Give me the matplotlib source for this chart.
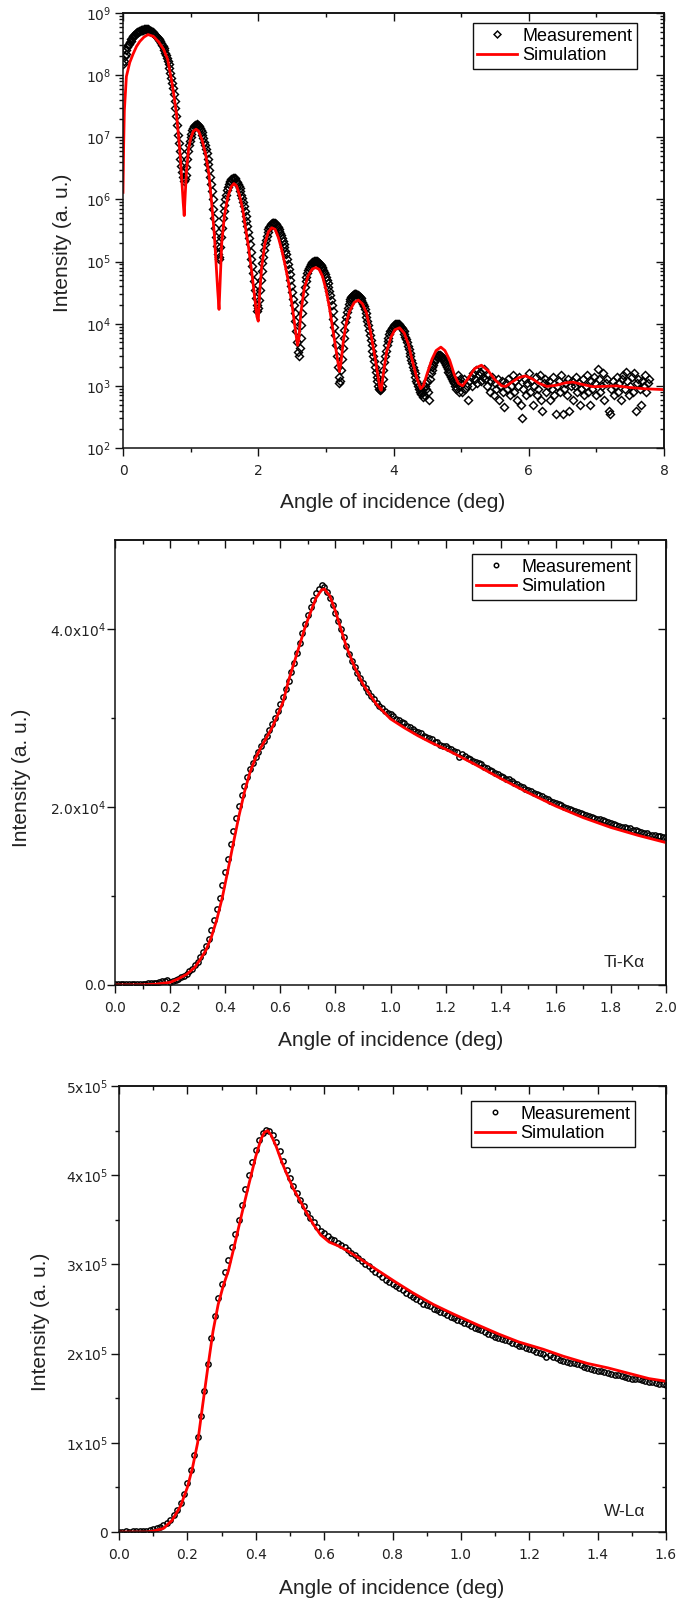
import numpy as np
import matplotlib.pyplot as plt
from matplotlib.ticker import MultipleLocator, FixedLocator, FixedFormatter, LogLocator, NullFormatter

# ---------------- X-ray reflectivity (log scale) ----------------
xrr_angle = np.concatenate([np.arange(0, 5.0, 0.0125), np.arange(5.0, 7.79, 0.02)])
xrr_meas = np.array([
    1.5e8, 1.7e8, 2.0e8, 2.2e8, 2.5e8, 2.8e8, 3.0e8, 3.2e8,
    3.4e8, 3.6e8, 3.8e8, 4.0e8, 4.2e8, 4.4e8, 4.5e8, 4.7e8,
    4.8e8, 4.9e8, 5.0e8, 5.1e8, 5.2e8, 5.3e8, 5.3e8, 5.4e8,
    5.4e8, 5.5e8, 5.5e8, 5.6e8, 5.5e8, 5.5e8, 5.4e8, 5.3e8,
    5.2e8, 5.1e8, 5.0e8, 4.9e8, 4.7e8, 4.6e8, 4.4e8, 4.3e8,
    4.1e8, 4.0e8, 3.8e8, 3.7e8, 3.5e8, 3.3e8, 3.1e8, 2.9e8,
    2.7e8, 2.5e8, 2.3e8, 2.1e8, 1.9e8, 1.7e8, 1.5e8, 1.3e8,
    1.1e8, 9.0e7, 7.5e7, 6.2e7, 5.0e7, 3.9e7, 3.0e7, 2.2e7,
    1.6e7, 1.1e7, 8.0e6, 6.0e6, 4.5e6, 3.5e6, 2.8e6, 2.3e6,
    2.0e6, 2.1e6, 2.5e6, 3.3e6, 4.5e6, 6.0e6, 7.5e6, 8.8e6,
    1.0e7, 1.15e7, 1.3e7, 1.4e7, 1.5e7, 1.55e7, 1.6e7, 1.62e7,
    1.6e7, 1.55e7, 1.5e7, 1.4e7, 1.3e7, 1.2e7, 1.1e7, 9.8e6,
    8.5e6, 7.5e6, 6.5e6, 5.5e6, 4.5e6, 3.7e6, 3.0e6, 2.3e6,
    1.8e6, 1.35e6, 1.0e6, 7.0e5, 5.0e5, 3.5e5, 2.5e5, 1.8e5,
    1.3e5, 1.1e5, 1.2e5, 1.7e5, 2.5e5, 3.5e5, 5.0e5, 6.5e5,
    8.0e5, 1.0e6, 1.2e6, 1.4e6, 1.6e6, 1.75e6, 1.9e6, 2.0e6,
    2.1e6, 2.15e6, 2.2e6, 2.2e6, 2.2e6, 2.1e6, 2.0e6, 1.9e6,
    1.8e6, 1.65e6, 1.5e6, 1.35e6, 1.2e6, 1.05e6, 9.0e5, 7.7e5,
    6.5e5, 5.4e5, 4.5e5, 3.7e5, 3.0e5, 2.4e5, 1.9e5, 1.45e5,
    1.1e5, 8.5e4, 6.5e4, 4.8e4, 3.5e4, 2.6e4, 2.0e4, 1.6e4,
    1.8e4, 2.4e4, 3.5e4, 5.0e4, 7.0e4, 9.5e4, 1.2e5, 1.55e5,
    1.9e5, 2.25e5, 2.6e5, 3.0e5, 3.3e5, 3.55e5, 3.8e5, 4.0e5,
    4.1e5, 4.2e5, 4.2e5, 4.2e5, 4.1e5, 4.0e5, 3.8e5, 3.6e5,
    3.4e5, 3.15e5, 2.9e5, 2.65e5, 2.4e5, 2.15e5, 1.9e5, 1.7e5,
    1.5e5, 1.3e5, 1.1e5, 9.0e4, 7.5e4, 6.2e4, 5.0e4, 4.0e4,
    3.2e4, 2.5e4, 2.0e4, 1.5e4, 1.1e4, 7.5e3, 5.0e3, 3.5e3,
    3.0e3, 4.0e3, 6.0e3, 9.5e3, 1.5e4, 2.2e4, 3.0e4, 3.9e4,
    4.8e4, 5.6e4, 6.5e4, 7.3e4, 8.0e4, 8.5e4, 9.0e4, 9.4e4,
    9.8e4, 1.0e5, 1.02e5, 1.03e5, 1.02e5, 1.01e5, 1.0e5, 9.8e4,
    9.5e4, 9.1e4, 8.7e4, 8.3e4, 7.8e4, 7.3e4, 6.8e4, 6.2e4,
    5.6e4, 5.0e4, 4.5e4, 3.9e4, 3.4e4, 2.9e4, 2.4e4, 2.0e4,
    1.6e4, 1.2e4, 9.0e3, 6.5e3, 4.5e3, 3.0e3, 2.0e3, 1.4e3,
    1.1e3, 1.2e3, 1.8e3, 2.7e3, 4.0e3, 5.8e3, 8.0e3, 1.05e4,
    1.3e4, 1.55e4, 1.8e4, 2.05e4, 2.3e4, 2.5e4, 2.7e4, 2.8e4,
    2.9e4, 3.0e4, 3.0e4, 3.05e4, 3.0e4, 2.95e4, 2.9e4, 2.8e4,
    2.7e4, 2.55e4, 2.4e4, 2.25e4, 2.1e4, 1.9e4, 1.7e4, 1.5e4,
    1.3e4, 1.1e4, 9.5e3, 8.0e3, 6.5e3, 5.5e3, 4.5e3, 3.7e3,
    3.0e3, 2.5e3, 2.0e3, 1.7e3, 1.4e3, 1.2e3, 1.0e3, 9.0e2,
    8.5e2, 9.0e2, 1.0e3, 1.3e3, 1.8e3, 2.4e3, 3.0e3, 3.7e3,
    4.5e3, 5.2e3, 6.0e3, 6.8e3, 7.5e3, 8.0e3, 8.5e3, 9.0e3,
    9.3e3, 9.6e3, 9.8e3, 1.0e4, 1.0e4, 1.0e4, 9.8e3, 9.6e3,
    9.3e3, 8.9e3, 8.5e3, 8.0e3, 7.5e3, 6.8e3, 6.2e3, 5.6e3,
    5.0e3, 4.4e3, 3.9e3, 3.4e3, 3.0e3, 2.6e3, 2.3e3, 2.0e3,
    1.8e3, 1.6e3, 1.4e3, 1.2e3, 1.1e3, 1.0e3, 9.0e2, 8.0e2,
    7.5e2, 9.0e2, 8.0e2, 6.5e2, 7.0e2, 1.0e3, 9.0e2, 1.1e3,
    1.2e3, 8.0e2, 6.0e2, 1.3e3, 1.6e3, 1.8e3, 2.0e3, 2.2e3,
    2.4e3, 2.6e3, 2.7e3, 2.9e3, 3.0e3, 3.1e3, 3.1e3, 3.1e3,
    3.0e3, 2.9e3, 2.8e3, 2.6e3, 2.5e3, 2.3e3, 2.2e3, 2.0e3,
    1.9e3, 1.7e3, 1.6e3, 1.5e3, 1.4e3, 1.3e3, 1.2e3, 1.15e3,
    1.1e3, 1.0e3, 9.0e2, 1.2e3, 1.5e3, 8.0e2, 1.0e3, 1.3e3,
    # 5.00 - 7.78 deg, background
    1.1e3, 8e2, 1.3e3, 9e2, 1.0e3, 6e2, 1.2e3, 1.4e3, 1.0e3, 1.6e3,
    1.3e3, 1.8e3, 1.1e3, 1.5e3, 1.7e3, 1.2e3, 1.4e3, 1.9e3, 1.3e3, 1.0e3,
    1.5e3, 8e2, 1.2e3, 1.4e3, 7e2, 1.1e3, 9e2, 1.3e3, 6e2, 1.0e3,
    1.2e3, 8e2, 4.5e2, 1.1e3, 9e2, 1.3e3, 7e2, 1.0e3, 1.5e3, 8e2,
    1.2e3, 6e2, 1.0e3, 1.4e3, 5e2, 3e2, 9e2, 1.3e3, 7e2, 1.1e3,
    1.6e3, 8e2, 1.2e3, 5e2, 1.0e3, 1.4e3, 7e2, 9e2, 1.5e3, 6e2,
    4e2, 1.1e3, 1.3e3, 8e2, 1.0e3, 1.2e3, 6e2, 9e2, 1.4e3, 7e2,
    3.5e2, 1.0e3, 1.2e3, 8e2, 1.5e3, 3.5e2, 9e2, 1.1e3, 7e2, 1.3e3,
    4e2, 1.0e3, 1.2e3, 6e2, 1.0e3, 1.4e3, 8e2, 1.1e3, 5e2, 9e2,
    1.3e3, 7e2, 1.0e3, 1.5e3, 8e2, 5e2, 1.2e3, 9e2, 1.4e3, 1.1e3,
    7e2, 1.9e3, 1.3e3, 8e2, 1.0e3, 1.6e3, 6e2, 1.1e3, 1.3e3, 4e2,
    3.5e2, 9e2, 1.2e3, 7e2, 1.0e3, 1.4e3, 8e2, 1.1e3, 6e2, 1.3e3,
    1.5e3, 9e2, 1.7e3, 1.2e3, 7e2, 1.0e3, 1.4e3, 8e2, 1.6e3, 4e2,
    1.1e3, 1.3e3, 9e2, 5e2, 1.2e3, 1.0e3, 1.5e3, 8e2, 1.1e3, 1.3e3,
])

xrr_sim_angle = np.array([
    0.0, 0.01, 0.02, 0.05, 0.1, 0.15, 0.2, 0.25, 0.31, 0.37, 0.45, 0.53, 0.6, 0.66,
    0.72, 0.76, 0.79, 0.82, 0.85, 0.87, 0.89, 0.905, 0.92, 0.94, 0.97, 1.0, 1.04, 1.08,
    1.12, 1.17, 1.22, 1.27, 1.31, 1.35, 1.38, 1.40, 1.42, 1.44, 1.46, 1.5, 1.55, 1.6,
    1.64, 1.68, 1.72, 1.77, 1.81, 1.86, 1.91, 1.95, 1.98, 2.0, 2.02, 2.05, 2.1, 2.15,
    2.2, 2.25, 2.3, 2.35, 2.4, 2.45, 2.5, 2.55, 2.58, 2.6, 2.63, 2.68, 2.74, 2.8,
    2.85, 2.9, 2.95, 3.0, 3.05, 3.1, 3.15, 3.2, 3.22, 3.26, 3.3, 3.35, 3.42, 3.48,
    3.54, 3.6, 3.65, 3.7, 3.75, 3.8, 3.82, 3.85, 3.9, 3.96, 4.02, 4.09, 4.16, 4.22,
    4.28, 4.34, 4.4, 4.44, 4.5, 4.57, 4.63, 4.7, 4.76, 4.83, 4.9, 4.96, 5.02, 5.1,
    5.2, 5.3, 5.4, 5.5, 5.6, 5.66, 5.75, 5.85, 5.95, 6.05, 6.15, 6.27, 6.4, 6.55,
    6.65, 6.8, 6.95, 7.1, 7.3, 7.5, 7.7, 8.0,
])
xrr_sim = np.array([
    1.3e6, 8e6, 2.7e7, 9.5e7, 1.6e8, 2.2e8, 2.9e8, 3.5e8, 4.1e8, 4.5e8, 4.2e8, 3.4e8, 2.6e8, 1.8e8,
    8e7, 4.2e7, 2.4e7, 1.1e7, 4.5e6, 2e6, 9e5, 5.5e5, 1.2e6, 3e6, 6.5e6, 9.5e6, 1.25e7, 1.35e7,
    1.25e7, 9e6, 5.5e6, 2.6e6, 9e5, 2.8e5, 8e4, 3.5e4, 1.7e4, 6e4, 2e5, 5.5e5, 1.1e6, 1.6e6,
    1.8e6, 1.65e6, 1.2e6, 7e5, 3.6e5, 1.6e5, 6e4, 2.5e4, 1.3e4, 1.1e4, 3e4, 8e4, 2e5, 3e5,
    3.5e5, 3.3e5, 2.4e5, 1.5e5, 8.5e4, 4.5e4, 2e4, 8e3, 4.5e3, 5.5e3, 1.5e4, 3.7e4, 6e4, 7.6e4,
    8e4, 7.5e4, 5.8e4, 3.6e4, 1.9e4, 8.5e3, 3.8e3, 1.7e3, 2.2e3, 5.5e3, 1.0e4, 1.6e4, 2.2e4, 2.4e4,
    2.1e4, 1.5e4, 8.5e3, 4.2e3, 2e3, 9e2, 8.5e2, 1.6e3, 3.6e3, 6e3, 8e3, 8.6e3, 7e3, 4.7e3,
    2.5e3, 1.4e3, 9e2, 1.0e3, 1.6e3, 2.7e3, 3.7e3, 4.2e3, 3.7e3, 2.6e3, 1.5e3, 1.1e3, 1.0e3, 1.3e3,
    1.9e3, 2.15e3, 1.75e3, 1.25e3, 1.0e3, 9.8e2, 1.15e3, 1.35e3, 1.45e3, 1.3e3, 1.1e3, 9.8e2, 1.02e3, 1.12e3,
    1.15e3, 1.05e3, 9.7e2, 9.8e2, 1.0e3, 9.4e2, 9e2, 8.7e2,
])

# ---------------- Ti-Ka fluorescence ----------------
ti_angle = np.linspace(0, 2.0, 201)
ti_meas = np.array([
    80, 60, 90, 70, 100, 80, 110, 90, 120, 100,
    150, 130, 180, 200, 240, 280, 330, 400, 470, 560,
    380, 450, 560, 700, 870, 1060, 1280, 1550, 1850, 2200,
    2600, 3100, 3700, 4400, 5200, 6200, 7300, 8500, 9800, 11200,
    12700, 14200, 15800, 17300, 18800, 20100, 21300, 22400, 23400, 24300,
    24900, 25600, 26200, 26800, 27400, 28000, 28600, 29300, 30000, 30800,
    31600, 32400, 33300, 34200, 35200, 36200, 37300, 38400, 39500, 40600,
    41600, 42500, 43300, 44000, 44500, 44900, 44700, 44200, 43500, 42700,
    41800, 40900, 40000, 39100, 38100, 37200, 36400, 35700, 35100, 34500,
    33900, 33400, 32900, 32500, 32100, 31700, 31400, 31100, 30800, 30600,
    30400, 30200, 29900, 29800, 29500, 29400, 29100, 29000, 28800, 28500,
    28400, 28300, 28000, 27900, 27700, 27600, 27300, 27300, 27000, 26900,
    26800, 26600, 26500, 26300, 26200, 25600, 25900, 25700, 25500, 25400,
    25200, 25100, 24900, 24800, 24500, 24400, 24200, 24100, 23800, 23700,
    23500, 23400, 23200, 23100, 22900, 22700, 22600, 22400, 22300, 22000,
    21900, 21800, 21600, 21500, 21300, 21200, 21000, 20900, 20700, 20600,
    20400, 20300, 20200, 20000, 19900, 19800, 19700, 19500, 19400, 19300,
    19200, 19100, 19000, 18900, 18800, 18700, 18600, 18500, 18400, 18300,
    18200, 18100, 18000, 17900, 17800, 17800, 17600, 17600, 17400, 17400,
    17300, 17200, 17100, 17100, 16900, 16900, 16800, 16700, 16700, 16600,
    16600,
])
ti_sim_angle = np.array([
    0.0, 0.1, 0.15, 0.2, 0.23, 0.26, 0.29, 0.31, 0.33, 0.35, 0.37, 0.39, 0.41, 0.43,
    0.45, 0.47, 0.49, 0.51, 0.53, 0.55, 0.57, 0.59, 0.61, 0.63, 0.65, 0.67, 0.69, 0.71,
    0.73, 0.75, 0.76, 0.78, 0.80, 0.82, 0.84, 0.87, 0.90, 0.95, 1.00, 1.05, 1.10, 1.15,
    1.20, 1.25, 1.30, 1.40, 1.50, 1.60, 1.70, 1.80, 1.90, 2.00,
])
ti_sim = np.array([
    0, 20, 100, 300, 700, 1200, 2000, 2900, 3900, 5400, 7400, 9900, 12900, 16000,
    19000, 21700, 23900, 25500, 26700, 27800, 28900, 30300, 31800, 34200, 36200, 38200, 40200, 41900,
    43500, 44400, 44500, 43700, 42000, 40000, 38000, 35700, 33800, 31500, 29900, 28900, 28000, 27200,
    26500, 25700, 24900, 23200, 21600, 20100, 18800, 17700, 16800, 16000,
])

# ---------------- W-La fluorescence ----------------
w_angle = np.linspace(0, 1.6, 161)
w_meas = np.array([
    500, 400, 600, 500, 700, 600, 900, 1500, 1200, 2000,
    3000, 4000, 5500, 7500, 10e3, 14e3, 19e3, 25e3, 33e3, 43e3,
    55e3, 69e3, 86e3, 106e3, 130e3, 158e3, 188e3, 217e3, 242e3, 262e3,
    278e3, 292e3, 305e3, 319e3, 334e3, 350e3, 367e3, 384e3, 400e3, 415e3,
    428e3, 439e3, 447e3, 451e3, 450e3, 445e3, 437e3, 427e3, 416e3, 406e3,
    397e3, 388e3, 380e3, 372e3, 365e3, 358e3, 352e3, 347e3, 342e3, 338e3,
    335e3, 332e3, 329e3, 327e3, 324e3, 322e3, 319e3, 316e3, 313e3, 310e3,
    307e3, 304e3, 301e3, 298e3, 295e3, 292e3, 289e3, 286e3, 283e3, 280e3,
    278e3, 276e3, 273e3, 271e3, 268e3, 266e3, 264e3, 261e3, 259e3, 256e3,
    254e3, 253e3, 250e3, 249e3, 247e3, 245e3, 243e3, 241e3, 240e3, 238e3,
    236e3, 234e3, 233e3, 231e3, 229e3, 228e3, 226e3, 224e3, 222e3, 221e3,
    219e3, 218e3, 216e3, 215e3, 214e3, 212e3, 211e3, 209e3, 208e3, 206e3,
    205e3, 204e3, 202e3, 201e3, 200e3, 196e3, 198e3, 196e3, 195e3, 193e3,
    192e3, 191e3, 190e3, 189e3, 188e3, 187e3, 185e3, 184e3, 183e3, 182e3,
    181e3, 180e3, 179e3, 178e3, 177e3, 176e3, 176e3, 175e3, 174e3, 173e3,
    172e3, 171e3, 171e3, 170e3, 169e3, 168e3, 168e3, 167e3, 166e3, 166e3,
    165e3,
])
w_sim_angle = np.array([
    0.0, 0.08, 0.1, 0.13, 0.155, 0.18, 0.2, 0.215, 0.23, 0.245, 0.26, 0.275, 0.29, 0.305,
    0.32, 0.34, 0.36, 0.38, 0.40, 0.415, 0.425, 0.435, 0.445, 0.46, 0.475, 0.49, 0.51, 0.53,
    0.55, 0.57, 0.59, 0.615, 0.64, 0.665, 0.69, 0.73, 0.77, 0.81, 0.86, 0.92, 0.98, 1.05,
    1.11, 1.17, 1.24, 1.30, 1.37, 1.43, 1.49, 1.55, 1.60,
])
w_sim = np.array([
    0, 0, 1e3, 4e3, 13e3, 29e3, 50e3, 72e3, 100e3, 143e3, 185e3, 225e3, 255e3, 276e3,
    293e3, 325e3, 358e3, 390e3, 421e3, 440e3, 448e3, 450e3, 445e3, 432e3, 416e3, 402e3, 385e3, 371e3,
    357e3, 344e3, 333e3, 325e3, 321e3, 316e3, 310e3, 300e3, 290e3, 280e3, 268e3, 255e3, 244e3, 232e3,
    222e3, 213e3, 205e3, 197e3, 189e3, 184e3, 178e3, 172e3, 169e3,
])

ti_yticks = [0, 2e4, 4e4]
ti_ylabels = ['0.0', '2.0x10$^{4}$', '4.0x10$^{4}$']
w_yticks = [0, 1e5, 2e5, 3e5, 4e5, 5e5]
w_ylabels = ['0', '1x10$^{5}$', '2x10$^{5}$', '3x10$^{5}$', '4x10$^{5}$', '5x10$^{5}$']

TXT = '#222222'
LABEL_FONT = dict(family='Liberation Sans', size=15, color=TXT)
W, H = 678, 1602


def px_axes(left, right, top, bottom):
    return fig.add_axes([left / W, 1 - bottom / H, (right - left) / W, (bottom - top) / H])


def frame(ax, xmaj, xmin, ypad):
    for s in ax.spines.values():
        s.set_linewidth(1.1)
        s.set_color('#111111')
    ax.xaxis.set_major_locator(MultipleLocator(xmaj))
    ax.xaxis.set_minor_locator(MultipleLocator(xmin))
    ax.tick_params(which='both', direction='out', width=1.0, color='#111111',
                   labelsize=10, labelcolor=TXT)
    ax.tick_params(which='major', length=5.8)
    ax.tick_params(which='minor', length=3.2)
    ax.tick_params(axis='x', pad=6.0)
    ax.tick_params(axis='y', pad=ypad)
    # mirrored ticks pointing inward on top and right
    top = ax.secondary_xaxis('top')
    right = ax.secondary_yaxis('right')
    top.xaxis.set_major_locator(MultipleLocator(xmaj))
    top.xaxis.set_minor_locator(MultipleLocator(xmin))
    for sec in (top, right):
        sec.tick_params(which='both', direction='in', width=1.0, color='#111111',
                        labeltop=False, labelright=False, labelbottom=False, labelleft=False)
        sec.tick_params(which='major', length=5.8)
        sec.tick_params(which='minor', length=3.2)
        for s in sec.spines.values():
            s.set_linewidth(1.1)
            s.set_color('#111111')
    return right


fig = plt.figure(figsize=(W / 100, H / 100), dpi=100)
leg_kw = dict(loc='upper right', borderaxespad=0, fancybox=False, framealpha=1,
              edgecolor='#111111', prop={'family': 'Liberation Sans', 'size': 13},
              handlelength=2.2, handletextpad=0.3, borderpad=0.25, labelspacing=0.15,
              numpoints=1)
meas_kw = dict(ls='none', mfc='none', mec='black', mew=1.05, label='Measurement')
sim_kw = dict(color='#ff0000', lw=2.0, label='Simulation')

# --- panel 1 ---
ax1 = px_axes(123, 664, 13, 448)
ax1.set_yscale('log')
ax1.set_xlim(0, 8)
ax1.set_ylim(1e2, 1e9)
ax1.plot(xrr_angle, xrr_meas, marker='D', ms=4.4, **meas_kw)
ax1.plot(xrr_sim_angle, xrr_sim, **sim_kw)
ax1.yaxis.set_major_locator(LogLocator(base=10, numticks=12))
ax1.yaxis.set_minor_locator(LogLocator(base=10, subs=np.arange(2, 10), numticks=12))
ax1.yaxis.set_minor_formatter(NullFormatter())
r1 = frame(ax1, 2, 1, 2.5)
r1.yaxis.set_major_locator(LogLocator(base=10, numticks=12))
r1.yaxis.set_minor_locator(LogLocator(base=10, subs=np.arange(2, 10), numticks=12))
r1.yaxis.set_minor_formatter(NullFormatter())
leg = ax1.legend(bbox_to_anchor=((637 - 123) / 541, (448 - 23) / 435), markerscale=0.8, **leg_kw)
leg.get_frame().set_linewidth(1.0)
fig.text(393 / W, 1 - 502 / H, 'Angle of incidence (deg)', ha='center', va='center', **LABEL_FONT)
fig.text(63 / W, 1 - 243 / H, 'Intensity (a. u.)', rotation=90, ha='center', va='center', **LABEL_FONT)

# --- panel 2 ---
ax2 = px_axes(115, 666, 540, 985)
ax2.set_xlim(0, 2.0)
ax2.set_ylim(0, 5e4)
ax2.plot(ti_angle, ti_meas, marker='o', ms=3.8, **meas_kw)
ax2.plot(ti_sim_angle, ti_sim, **sim_kw)
ax2.yaxis.set_major_locator(FixedLocator(ti_yticks))
ax2.yaxis.set_major_formatter(FixedFormatter(ti_ylabels))
ax2.yaxis.set_minor_locator(FixedLocator([1e4, 3e4]))
r2 = frame(ax2, 0.2, 0.1, 1.0)
r2.yaxis.set_major_locator(FixedLocator(ti_yticks))
r2.yaxis.set_minor_locator(FixedLocator([1e4, 3e4]))
ax2.set_xticks(np.arange(0, 2.01, 0.2))
ax2.set_xticklabels(['%.1f' % v for v in np.arange(0, 2.01, 0.2)])
leg = ax2.legend(bbox_to_anchor=((636 - 115) / 551, (985 - 554) / 445), markerscale=0.85, **leg_kw)
leg.get_frame().set_linewidth(1.0)
ax2.text((645 - 115) / 551, (985 - 963) / 445, 'Ti-K\u03b1', transform=ax2.transAxes,
         ha='right', va='center', family='Liberation Sans', size=12.5, color=TXT)
fig.text(391 / W, 1 - 1041 / H, 'Angle of incidence (deg)', ha='center', va='center', **LABEL_FONT)
fig.text(22 / W, 1 - 778 / H, 'Intensity (a. u.)', rotation=90, ha='center', va='center', **LABEL_FONT)

# --- panel 3 ---
ax3 = px_axes(119, 666, 1086, 1532)
ax3.set_xlim(0, 1.6)
ax3.set_ylim(0, 5e5)
ax3.plot(w_angle, w_meas, marker='o', ms=3.8, **meas_kw)
ax3.plot(w_sim_angle, w_sim, **sim_kw)
ax3.yaxis.set_major_locator(FixedLocator(w_yticks))
ax3.yaxis.set_major_formatter(FixedFormatter(w_ylabels))
ax3.yaxis.set_minor_locator(MultipleLocator(5e4))
r3 = frame(ax3, 0.2, 0.1, 2.0)
r3.yaxis.set_major_locator(FixedLocator(w_yticks))
r3.yaxis.set_minor_locator(MultipleLocator(5e4))
ax3.set_xticks(np.arange(0, 1.61, 0.2))
ax3.set_xticklabels(['%.1f' % v for v in np.arange(0, 1.61, 0.2)])
leg = ax3.legend(bbox_to_anchor=((635 - 119) / 547, (1532 - 1101) / 446), markerscale=0.85, **leg_kw)
leg.get_frame().set_linewidth(1.0)
ax3.text((645 - 119) / 547, (1532 - 1512) / 446, 'W-L\u03b1', transform=ax3.transAxes,
         ha='right', va='center', family='Liberation Sans', size=12.5, color=TXT)
fig.text(392 / W, 1 - 1588 / H, 'Angle of incidence (deg)', ha='center', va='center', **LABEL_FONT)
fig.text(41 / W, 1 - 1322 / H, 'Intensity (a. u.)', rotation=90, ha='center', va='center', **LABEL_FONT)

fig.savefig('out.png', dpi=100)
